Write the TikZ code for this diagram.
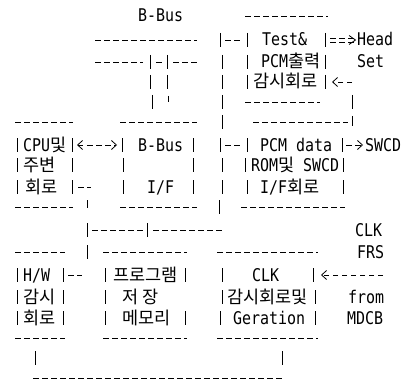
\documentclass[tikz,border=0pt]{standalone}
\usepackage{fontspec}
\usepackage{graphicx}
\usetikzlibrary{arrows.meta}
\newfontfamily\latfont{DejaVu Sans Mono}
\newfontfamily\korfont{Noto Sans CJK KR}
\newcommand\latx[1]{\scalebox{0.88}[1.03]{\fontsize{17}{17}\selectfont\latfont #1}}
\newcommand\korx[1]{{\fontsize{17.5}{17.5}\selectfont\korfont #1}}
\begin{document}
\begin{tikzpicture}[x=1pt,y=-1pt,
  every node/.style={inner sep=0pt, outer sep=0pt, anchor=base west},
  dl/.style={line width=0.8pt, dash pattern=on 5.5pt off 3.5pt},
  bar/.style={line width=0.8pt},
  tip/.style={-{Straight Barb[length=5pt,width=9pt,line width=0.8pt]}},
  tips/.style={{Straight Barb[length=5pt,width=9pt,line width=0.8pt]}-{Straight Barb[length=5pt,width=9pt,line width=0.8pt]}}]
\useasboundingbox (0,0) rectangle (403,382);
% ---- texts ----
\node (bbus) at (138,22) {\latx{B-Bus}};
\node (test1) at (262,46) {\latx{Test\&}};
\node (test2) at (261,68) {\latx{PCM}\korx{출력}};
\node (test3) at (253,88) {\korx{감시회로}};
\node (head) at (357,46) {\latx{Head}};
\node (set) at (357,68) {\latx{Set}};
\node (cpu1) at (23,151) {\latx{CPU}\korx{및}};
\node (cpu2) at (23,171) {\korx{주변}};
\node (cpu3) at (25,193) {\korx{회로}};
\node (bb1) at (138,151) {\latx{B-Bus}};
\node (bb3) at (147,193) {\latx{I/F}};
\node (pcm1) at (260,151) {\latx{PCM data}};
\node (pcm2) at (251,171) {\latx{ROM}\korx{및}\latx{ SWCD}};
\node (pcm3) at (260,193) {\latx{I/F}\korx{회로}};
\node (swcd) at (365,151) {\latx{SWCD}};
\node (clkr) at (355,236) {\latx{CLK}};
\node (frs) at (357,258) {\latx{FRS}};
\node (hw1) at (23,281) {\latx{H/W}};
\node (hw2) at (23,303) {\korx{감시}};
\node (hw3) at (23,324) {\korx{회로}};
\node (prog1) at (113,281) {\korx{프로그램}};
\node (prog2) at (122,303) {\korx{저 장}};
\node (prog3) at (122,324) {\korx{메모리}};
\node (clk1) at (252,281) {\latx{CLK}};
\node (clk2) at (227,303) {\korx{감시회로및}};
\node (clk3) at (233,324) {\latx{Geration}};
\node (from) at (348,303) {\latx{from}};
\node (mdcb) at (347,324) {\latx{MDCB}};
% ---- horizontal dashed lines (box edges and buses) ----
\foreach \a/\b/\y in {245/328/16, 95/197/40, 95/143/62, 156/162/62, 173/197/62,
  245/320/102, 15/73/122, 120/197/122, 253/348/122,
  15/73/207, 120/197/207, 241/345/207, 92/143/230, 153/223/230,
  15/65/252, 103/187/252, 217/318/252, 15/65/338, 103/187/338, 217/318/338,
  33/283/378}
  \draw[dl] (\a,\y) -- (\b,\y);
% ---- vertical bars ----
\foreach \x/\y in {220/40, 222/62, 222/82, 222/102, 222/122, 220/145, 222/165, 222/187,
  247/40, 247/62, 247/82, 325/40, 325/62, 325/82, 352/102,
  150/62, 167/62, 150/82, 167/82, 152/102,
  17/145, 17/165, 17/187, 72/145, 72/165, 72/187,
  122/145, 123/165, 123/187, 193/145, 193/165, 193/187,
  247/145, 245/165, 247/187, 342/145, 343/165, 343/187,
  87/230, 87/252, 147/230,
  17/275, 17/297, 17/318, 63/275, 63/297, 63/318,
  105/275, 105/297, 105/318, 185/275, 185/318,
  222/275, 222/297, 220/318, 313/275, 315/297, 315/318,
  35/358, 282/358}
  \draw[bar] (\x,\y-7) -- (\x,\y+7);
\draw[bar] (168,96) -- (168,102);
\draw[bar] (219,200) -- (219,214);
\draw[bar] (87,200) -- (87,208);
\draw[bar] (352,116) -- (352,126);
% ---- connectors ----
\coordinate (trA) at (225,40);
\coordinate (trB) at (243,40);
\draw[dl] (trA) -- (trB);
\coordinate (trC) at (225,145);
\coordinate (trD) at (241,145);
\draw[dl] (trC) -- (trD);
\coordinate (cpuR) at (78,187);
\coordinate (lbus) at (91,187);
\draw[dl] (cpuR) -- (lbus);
\coordinate (hwR) at (68,275);
\coordinate (lbus2) at (82,275);
\draw[dl] (hwR) -- (lbus2);
\coordinate (cpuA) at (77,145);
\coordinate (bbA) at (117,145);
\draw[dl, tips] (cpuA) -- (bbA);
\coordinate (retA) at (352,82);
\coordinate (retB) at (332,82);
\draw[dl, tip] (retA) -- (retB);
\coordinate (swA) at (346,145);
\coordinate (swB) at (363,145);
\draw[dl, tip] (swA) -- (swB);
\coordinate (mdA) at (383,275);
\coordinate (mdB) at (321,275);
\draw[dl, tip] (mdA) -- (mdB);
% ==> to Head Set
\coordinate (hdA) at (330,40);
\coordinate (hdB) at (355,40);
\draw[dl] ([yshift=-2pt]hdA) -- ([yshift=-2pt]hdB);
\draw[dl] ([yshift=2pt]hdA) -- ([yshift=2pt]hdB);
\draw[line width=0.8pt] (349,35.5) -- (355.5,40) -- (349,44.5);
\end{tikzpicture}
\end{document}
